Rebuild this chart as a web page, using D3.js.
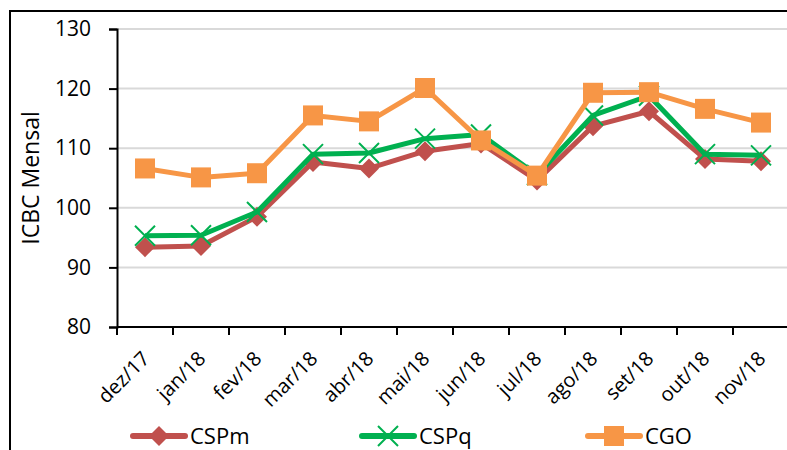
<!DOCTYPE html>
<html>
<head>
<meta charset="utf-8">
<script src="https://cdn.jsdelivr.net/npm/d3@7"></script>
<style>
  body { margin: 0; background: #fff; }
  text { font-family: "Open Sans", "Noto Sans", sans-serif; fill: #000; }
</style>
</head>
<body>
<script>
const w = 787;
const h = 450;

// dados
const months = ["dez/17", "jan/18", "fev/18", "mar/18", "abr/18", "mai/18", "jun/18", "jul/18", "ago/18", "set/18", "out/18", "nov/18"];
const cspm = [93.4, 93.6, 98.5, 107.7, 106.6, 109.5, 110.8, 104.6, 113.7, 116.2, 108.2, 107.8];
const cspq = [95.3, 95.4, 99.3, 109.0, 109.2, 111.6, 112.3, 105.5, 115.5, 118.8, 109.0, 108.8];
const cgo = [106.6, 105.1, 105.8, 115.5, 114.5, 120.1, 111.3, 105.4, 119.3, 119.4, 116.6, 114.3];
const yTicks = [80, 90, 100, 110, 120, 130];

const plotLeft = 117, plotRight = 789, plotTop = 29, plotBottom = 327;

const svg = d3.select("body").append("svg").attr("width", w).attr("height", h);

// moldura
svg.append("path")
  .attr("d", "M10," + h + " L10,11 L" + w + ",11")
  .attr("fill", "none").attr("stroke", "#000").attr("stroke-width", 2);

const xScale = d3.scaleBand().domain(months).range([plotLeft, plotRight]);
const yScale = d3.scaleLinear().domain([80, 130]).range([plotBottom, plotTop]);

// grade
svg.append("g").selectAll("line")
  .data(yTicks.filter(t => t > 80))
  .enter().append("line")
  .attr("x1", plotLeft).attr("x2", w)
  .attr("y1", d => yScale(d)).attr("y2", d => yScale(d))
  .attr("stroke", "#d9d9d9").attr("stroke-width", 2);

// eixos
const yAxis = d3.axisLeft(yScale).tickValues(yTicks).tickSize(8).tickPadding(18);
const gy = svg.append("g").attr("transform", "translate(" + plotLeft + ",0)").call(yAxis);
gy.select(".domain").attr("stroke-width", 2);
gy.selectAll(".tick line").attr("stroke-width", 2);
gy.selectAll("text").style("font-size", "21px").attr("font-family", null);

const xAxis = d3.axisBottom(xScale).tickSize(0).tickPadding(0);
const gx = svg.append("g").attr("transform", "translate(0," + plotBottom + ")").call(xAxis);
gx.select(".domain").attr("stroke-width", 2).attr("d", "M" + plotLeft + ",0H" + plotRight);
gx.selectAll(".tick text")
  .style("font-size", "20px").attr("font-family", null)
  .attr("text-anchor", "end")
  .attr("transform", "translate(" + (xScale.bandwidth() / 2 - 27) + ",28) rotate(-45)")
  .attr("dy", "0.35em").attr("y", 0).attr("x", 0);
// ticks entre categorias
svg.append("g").selectAll("line")
  .data(months.concat(["end"]))
  .enter().append("line")
  .attr("x1", (d, i) => plotLeft + i * xScale.bandwidth())
  .attr("x2", (d, i) => plotLeft + i * xScale.bandwidth())
  .attr("y1", plotBottom).attr("y2", plotBottom + 8)
  .attr("stroke", "#000").attr("stroke-width", 2);

// rótulo do eixo y
svg.append("text")
  .attr("transform", "translate(39," + (plotTop + plotBottom) / 2 + ") rotate(-90)")
  .attr("text-anchor", "middle")
  .style("font-size", "23px")
  .text("ICBC Mensal");

const series = [
  { name: "CSPm", values: cspm, color: "#c0504d", marker: "diamond" },
  { name: "CSPq", values: cspq, color: "#00b050", marker: "x" },
  { name: "CGO", values: cgo, color: "#f79646", marker: "square" }
];

const line = d3.line()
  .x((d, i) => xScale(months[i]) + xScale.bandwidth() / 2)
  .y(d => yScale(d));

function drawMarker(g, type, color) {
  if (type === "diamond") {
    g.append("path").attr("d", "M0,-10L10,0L0,10L-10,0Z").attr("fill", color);
  } else if (type === "square") {
    g.append("rect").attr("x", -10).attr("y", -10).attr("width", 20).attr("height", 20).attr("fill", color);
  } else {
    g.append("path").attr("d", "M-10,-10L10,10M-10,10L10,-10")
      .attr("stroke", color).attr("stroke-width", 2).attr("fill", "none");
  }
}

series.forEach(s => {
  svg.append("path")
    .datum(s.values)
    .attr("d", line)
    .attr("fill", "none")
    .attr("stroke", s.color)
    .attr("stroke-width", 5)
    .attr("stroke-linejoin", "round");
  s.values.forEach((v, i) => {
    const g = svg.append("g")
      .attr("transform", "translate(" + (xScale(months[i]) + xScale.bandwidth() / 2) + "," + yScale(v) + ")");
    drawMarker(g, s.marker, s.color);
  });
});

// legenda
const legendX = [133, 362, 588];
series.forEach((s, i) => {
  const g = svg.append("g").attr("transform", "translate(" + legendX[i] + ",436)");
  g.append("line").attr("x1", 0).attr("x2", 52).attr("y1", 0).attr("y2", 0)
    .attr("stroke", s.color).attr("stroke-width", 6).attr("stroke-linecap", "round");
  const m = g.append("g").attr("transform", "translate(26,0)");
  drawMarker(m, s.marker, s.color);
  g.append("text").attr("x", 57).attr("y", 0).attr("dy", "0.35em")
    .style("font-size", "22px").text(s.name);
});
</script>
</body>
</html>
